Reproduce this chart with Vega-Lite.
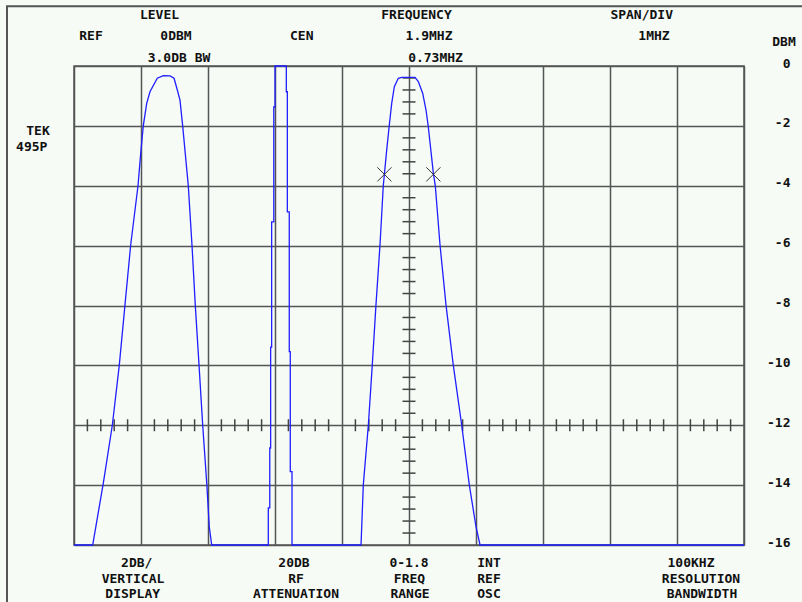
{
  "$schema": "https://vega.github.io/schema/vega-lite/v6.json",
  "width": 670,
  "height": 479,
  "autosize": {"type": "none"},
  "padding": {"left": 74, "top": 66, "right": 58, "bottom": 57},
  "background": "#f6fbf6",
  "config": {
    "view": {"stroke": "#555555", "strokeWidth": 1.5},
    "text": {"font": "DejaVu Sans Mono", "fontWeight": "bold", "fontSize": 13, "color": "#111111"},
    "axis": {"labelFont": "DejaVu Sans Mono", "labelFontWeight": 700, "labelFontSize": 13, "labelColor": "#111111"}
  },
  "datasets": {
    "trace": [
      {"f": -3.1, "db": -16}, {"f": -2.821, "db": -16}, {"f": -2.663, "db": -13.94}, {"f": -2.528, "db": -12.0},
      {"f": -2.424, "db": -9.99}, {"f": -2.339, "db": -7.98}, {"f": -2.254, "db": -5.98}, {"f": -2.145, "db": -4.01},
      {"f": -2.104, "db": -2.91}, {"f": -2.066, "db": -2.0}, {"f": -2.015, "db": -1.25}, {"f": -1.966, "db": -0.86},
      {"f": -1.857, "db": -0.41}, {"f": -1.767, "db": -0.32}, {"f": -1.667, "db": -0.33}, {"f": -1.607, "db": -0.41},
      {"f": -1.558, "db": -0.8}, {"f": -1.518, "db": -1.14}, {"f": -1.478, "db": -2.0}, {"f": -1.394, "db": -4.01},
      {"f": -1.339, "db": -5.98}, {"f": -1.29, "db": -7.98}, {"f": -1.234, "db": -9.99}, {"f": -1.179, "db": -12.0},
      {"f": -1.119, "db": -13.93}, {"f": -1.081, "db": -15.39}, {"f": -1.045, "db": -16},
      {"f": -0.2, "db": -16}, {"f": -0.2, "db": -14.76}, {"f": -0.178, "db": -14.76}, {"f": -0.178, "db": -12.76},
      {"f": -0.165, "db": -12.76}, {"f": -0.165, "db": -9.39}, {"f": -0.15, "db": -9.39}, {"f": -0.15, "db": -5.21},
      {"f": -0.118, "db": -5.21}, {"f": -0.118, "db": -1.37}, {"f": -0.1, "db": -1.37}, {"f": -0.1, "db": 0},
      {"f": 0.069, "db": 0}, {"f": 0.069, "db": -0.86}, {"f": 0.084, "db": -0.86}, {"f": 0.084, "db": -4.87},
      {"f": 0.113, "db": -4.87}, {"f": 0.113, "db": -9.54}, {"f": 0.128, "db": -9.54}, {"f": 0.128, "db": -13.55},
      {"f": 0.154, "db": -13.55}, {"f": 0.154, "db": -16},
      {"f": 1.184, "db": -16}, {"f": 1.218, "db": -13.99}, {"f": 1.293, "db": -12.0}, {"f": 1.352, "db": -9.99},
      {"f": 1.407, "db": -7.98}, {"f": 1.467, "db": -5.98}, {"f": 1.516, "db": -4.01}, {"f": 1.567, "db": -2.81},
      {"f": 1.606, "db": -1.97}, {"f": 1.642, "db": -1.25}, {"f": 1.681, "db": -0.69}, {"f": 1.74, "db": -0.41},
      {"f": 1.791, "db": -0.38}, {"f": 1.99, "db": -0.38}, {"f": 2.039, "db": -0.52}, {"f": 2.104, "db": -0.91},
      {"f": 2.154, "db": -1.47}, {"f": 2.188, "db": -2.03}, {"f": 2.263, "db": -3.57}, {"f": 2.293, "db": -4.01},
      {"f": 2.363, "db": -5.98}, {"f": 2.452, "db": -7.98}, {"f": 2.561, "db": -9.99}, {"f": 2.687, "db": -12.0},
      {"f": 2.8, "db": -13.99}, {"f": 2.9, "db": -15.39}, {"f": 2.96, "db": -16}, {"f": 6.9, "db": -16}
    ],
    "markers": [{"f": 1.533, "db": -3.62}, {"f": 2.263, "db": -3.62}],
    "vticks": [
      {"f": 1.9, "db": -0.4}, {"f": 1.9, "db": -0.8}, {"f": 1.9, "db": -1.2}, {"f": 1.9, "db": -1.6},
      {"f": 1.9, "db": -2.4}, {"f": 1.9, "db": -2.8}, {"f": 1.9, "db": -3.2}, {"f": 1.9, "db": -3.6},
      {"f": 1.9, "db": -4.4}, {"f": 1.9, "db": -4.8}, {"f": 1.9, "db": -5.2}, {"f": 1.9, "db": -5.6},
      {"f": 1.9, "db": -6.4}, {"f": 1.9, "db": -6.8}, {"f": 1.9, "db": -7.2}, {"f": 1.9, "db": -7.6},
      {"f": 1.9, "db": -8.4}, {"f": 1.9, "db": -8.8}, {"f": 1.9, "db": -9.2}, {"f": 1.9, "db": -9.6},
      {"f": 1.9, "db": -10.4}, {"f": 1.9, "db": -10.8}, {"f": 1.9, "db": -11.2}, {"f": 1.9, "db": -11.6},
      {"f": 1.9, "db": -12.4}, {"f": 1.9, "db": -12.8}, {"f": 1.9, "db": -13.2}, {"f": 1.9, "db": -13.6},
      {"f": 1.9, "db": -14.4}, {"f": 1.9, "db": -14.8}, {"f": 1.9, "db": -15.2}, {"f": 1.9, "db": -15.6}
    ],
    "hticks": [
      {"f": -2.9, "db": -12}, {"f": -2.7, "db": -12}, {"f": -2.5, "db": -12}, {"f": -2.3, "db": -12},
      {"f": -1.9, "db": -12}, {"f": -1.7, "db": -12}, {"f": -1.5, "db": -12}, {"f": -1.3, "db": -12},
      {"f": -0.9, "db": -12}, {"f": -0.7, "db": -12}, {"f": -0.5, "db": -12}, {"f": -0.3, "db": -12},
      {"f": 0.1, "db": -12}, {"f": 0.3, "db": -12}, {"f": 0.5, "db": -12}, {"f": 0.7, "db": -12},
      {"f": 1.1, "db": -12}, {"f": 1.3, "db": -12}, {"f": 1.5, "db": -12}, {"f": 1.7, "db": -12},
      {"f": 2.1, "db": -12}, {"f": 2.3, "db": -12}, {"f": 2.5, "db": -12}, {"f": 2.7, "db": -12},
      {"f": 3.1, "db": -12}, {"f": 3.3, "db": -12}, {"f": 3.5, "db": -12}, {"f": 3.7, "db": -12},
      {"f": 4.1, "db": -12}, {"f": 4.3, "db": -12}, {"f": 4.5, "db": -12}, {"f": 4.7, "db": -12},
      {"f": 5.1, "db": -12}, {"f": 5.3, "db": -12}, {"f": 5.5, "db": -12}, {"f": 5.7, "db": -12},
      {"f": 6.1, "db": -12}, {"f": 6.3, "db": -12}, {"f": 6.5, "db": -12}, {"f": 6.7, "db": -12}
    ],
    "labels": [
      {"f": -1.824, "db": 1.703, "label": "LEVEL"},
      {"f": 2.012, "db": 1.703, "label": "FREQUENCY"},
      {"f": 5.373, "db": 1.703, "label": "SPAN/DIV"},
      {"f": -2.846, "db": 1.002, "label": "REF"},
      {"f": -1.578, "db": 1.002, "label": "0DBM"},
      {"f": 0.299, "db": 1.002, "label": "CEN"},
      {"f": 2.199, "db": 1.002, "label": "1.9MHZ"},
      {"f": 5.557, "db": 1.002, "label": "1MHZ"},
      {"f": 7.497, "db": 0.812, "label": "DBM"},
      {"f": -1.533, "db": 0.267, "label": "3.0DB BW"},
      {"f": 2.296, "db": 0.267, "label": "0.73MHZ"},
      {"f": -3.637, "db": -2.171, "label": "TEK"},
      {"f": -3.731, "db": -2.705, "label": "495P"},
      {"f": -2.164, "db": -16.6, "label": "2DB/"},
      {"f": -2.219, "db": -17.144, "label": "VERTICAL"},
      {"f": -2.224, "db": -17.645, "label": "DISPLAY"},
      {"f": 0.184, "db": -16.6, "label": "20DB"},
      {"f": 0.213, "db": -17.144, "label": "RF"},
      {"f": 0.213, "db": -17.645, "label": "ATTENUATION"},
      {"f": 1.9, "db": -16.6, "label": "0-1.8"},
      {"f": 1.907, "db": -17.144, "label": "FREQ"},
      {"f": 1.915, "db": -17.645, "label": "RANGE"},
      {"f": 3.094, "db": -16.6, "label": "INT"},
      {"f": 3.094, "db": -17.144, "label": "REF"},
      {"f": 3.094, "db": -17.645, "label": "OSC"},
      {"f": 6.109, "db": -16.6, "label": "100KHZ"},
      {"f": 6.258, "db": -17.144, "label": "RESOLUTION"},
      {"f": 6.273, "db": -17.645, "label": "BANDWIDTH"}
    ],
    "frame": [{"f": -4.1, "f2": 7.9, "db": 2, "db2": -18}]
  },
  "encoding": {
    "x": {
      "field": "f", "type": "quantitative",
      "scale": {"domain": [-3.1, 6.9], "nice": false, "zero": false},
      "axis": {
        "orient": "bottom", "labels": false, "ticks": false, "domain": false, "title": null,
        "grid": true, "gridColor": "#555555", "gridWidth": 1.5, "gridOpacity": 1,
        "values": [-3.1, -2.1, -1.1, -0.1, 0.9, 1.9, 2.9, 3.9, 4.9, 5.9, 6.9]
      }
    },
    "y": {
      "field": "db", "type": "quantitative",
      "scale": {"domain": [-16, 0], "nice": false, "zero": false},
      "axis": {
        "orient": "right", "ticks": false, "domain": false, "title": null,
        "grid": true, "gridColor": "#555555", "gridWidth": 1.5, "gridOpacity": 1,
        "values": [0, -2, -4, -6, -8, -10, -12, -14, -16],
        "labelExpr": "datum.value + ''",
        "labelAlign": "right", "labelPadding": 46, "labelBaseline": "middle", "labelOffset": -3,
        "labelFont": "DejaVu Sans Mono", "labelFontWeight": "bold", "labelFontSize": 13, "labelColor": "#111111"
      }
    }
  },
  "layer": [
    {
      "data": {"name": "frame"},
      "mark": {"type": "rect", "fill": null, "stroke": "#555555", "strokeWidth": 2, "clip": false},
      "encoding": {"x2": {"field": "f2"}, "y2": {"field": "db2"}}
    },
    {
      "data": {"name": "vticks"},
      "mark": {"type": "tick", "orient": "horizontal", "size": 13, "thickness": 1.5, "color": "#444444", "opacity": 1}
    },
    {
      "data": {"name": "hticks"},
      "mark": {"type": "tick", "orient": "vertical", "size": 12, "thickness": 1.5, "color": "#444444", "opacity": 1}
    },
    {
      "data": {"name": "trace"},
      "mark": {"type": "line", "color": "#1f1fff", "strokeWidth": 1.3},
      "encoding": {"order": {"value": null}}
    },
    {
      "data": {"name": "markers"},
      "mark": {"type": "point", "shape": "M-1,-1L1,1M-1,1L1,-1", "size": 200, "filled": false, "stroke": "#333333", "strokeWidth": 1, "opacity": 1}
    },
    {
      "data": {"name": "labels"},
      "mark": {"type": "text", "align": "center", "baseline": "middle"},
      "encoding": {"text": {"field": "label"}}
    }
  ]
}
